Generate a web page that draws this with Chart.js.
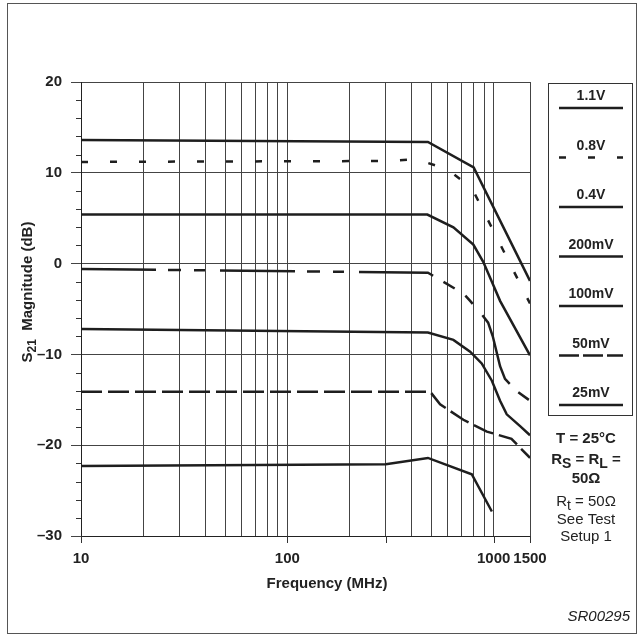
<!DOCTYPE html>
<html>
<head>
<meta charset="utf-8">
<script src="https://cdn.jsdelivr.net/npm/chart.js@4/dist/chart.umd.min.js"></script>
<style>
html, body { margin: 0; padding: 0; background: #fff; }
#wrap { width: 643px; height: 637px; }
</style>
</head>
<body>
<div id="wrap"><canvas id="c" width="643" height="637"></canvas></div>
<script>
// S21 magnitude vs frequency, one series per input level
const seriesNames = ['1.1V', '0.8V', '0.4V', '200mV', '100mV', '50mV', '25mV'];

const f11 = [10, 480, 800, 1500];
const s11 = [13.6, 13.4, 10.6, -1.9];

const f08 = [10, 300, 420, 594, 785, 1500];
const s08 = [11.2, 11.3, 11.5, 10.4, 8.3, -4.4];

const f04 = [10, 477, 638, 797, 890, 980, 1074, 1500];
const s04 = [5.4, 5.4, 4.0, 2.1, 0.2, -2.0, -4.1, -10.1];

const f200 = [10, 480, 713, 769, 875, 940, 990, 1074, 1135, 1285, 1500];
const s200 = [-0.6, -1.0, -3.3, -4.1, -5.6, -6.5, -8.0, -11.3, -12.7, -14.0, -15.1];

const f100 = [10, 480, 638, 769, 875, 980, 1074, 1157, 1343, 1500];
const s100 = [-7.2, -7.6, -8.4, -9.7, -11.0, -12.9, -15.1, -16.6, -17.9, -18.9];

const f50 = [10, 492, 550, 713, 927, 1220, 1500];
const s50 = [-14.1, -14.1, -15.5, -17.2, -18.5, -19.3, -21.4];

const f25 = [10, 300, 480, 783, 980];
const s25 = [-22.3, -22.1, -21.4, -23.2, -27.3];

const xGrid = [10, 20, 30, 40, 50, 60, 70, 80, 90, 100, 200, 300, 400, 500, 600, 700, 800, 900, 1000, 1500];
const xLabels = [10, 100, 1000, 1500];
const xLongTicks = [10, 100, 300, 1000, 1500];
const yMin = -30, yMax = 20, yStep = 2;

const FONT = '"Liberation Sans", Arial, Helvetica, sans-serif';
const INK = '#1e1e1e';

function pts(f, s) { return f.map((v, i) => ({ x: v, y: s[i] })); }

function series(i, f, s, dash, legendDash) {
  return {
    label: seriesNames[i],
    data: pts(f, s),
    borderColor: INK,
    borderWidth: 2.5,
    borderDash: dash || [],
    legendDash: legendDash || [],
    pointRadius: 0,
    tension: 0,
    fill: false
  };
}

function drawRich(ctx, parts, cx, baseY) {
  let total = 0;
  parts.forEach(p => { ctx.font = p.f; p.w = ctx.measureText(p.t).width; total += p.w; });
  let x = cx - total / 2;
  ctx.textAlign = 'left';
  ctx.textBaseline = 'alphabetic';
  parts.forEach(p => { ctx.font = p.f; ctx.fillText(p.t, x, baseY + (p.dy || 0)); x += p.w; });
}

function seg(ctx, x0, y0, x1, y1) {
  ctx.beginPath(); ctx.moveTo(x0, y0); ctx.lineTo(x1, y1); ctx.stroke();
}

const decor = {
  id: 'decor',
  afterDraw(chart) {
    const { ctx, chartArea: a, scales: { x, y } } = chart;
    ctx.save();

    // outer frame
    ctx.strokeStyle = '#555';
    ctx.lineWidth = 1;
    ctx.strokeRect(7.5, 3.5, 629, 630);

    // minor y ticks
    ctx.strokeStyle = '#333';
    y.ticks.forEach(t => {
      if (t.value % 10 !== 0) {
        const py = Math.round(y.getPixelForValue(t.value)) + 0.5;
        seg(ctx, a.left - 5, py, a.left, py);
      }
    });
    // longer x ticks below the axis
    xLongTicks.forEach(v => {
      const px = Math.round(x.getPixelForValue(v)) + 0.5;
      seg(ctx, px, a.bottom, px, a.bottom + 7);
    });

    ctx.fillStyle = '#222';
    // x title
    ctx.font = 'bold 15px ' + FONT;
    ctx.textAlign = 'center';
    ctx.textBaseline = 'alphabetic';
    ctx.fillText('Frequency (MHz)', 327, 588);

    // y title, rotated
    ctx.save();
    ctx.translate(32, 292);
    ctx.rotate(-Math.PI / 2);
    drawRich(ctx, [
      { t: 'S', f: 'bold 15px ' + FONT },
      { t: '21', f: 'bold 12px ' + FONT, dy: 4 },
      { t: '  Magnitude (dB)', f: 'bold 15px ' + FONT }
    ], 0, 0);
    ctx.restore();

    // legend box
    const lx0 = 548, ly0 = 83, lx1 = 632, ly1 = 415;
    ctx.strokeStyle = '#333';
    ctx.lineWidth = 1;
    ctx.strokeRect(lx0 + 0.5, ly0 + 0.5, lx1 - lx0, ly1 - ly0);
    chart.data.datasets.forEach((ds, i) => {
      const ty = 100 + i * 49.5;
      ctx.font = 'bold 14px ' + FONT;
      ctx.textAlign = 'center';
      ctx.fillText(ds.label, 591, ty);
      ctx.strokeStyle = INK;
      ctx.lineWidth = 2.5;
      ctx.setLineDash(ds.legendDash);
      seg(ctx, 559, ty + 8, 623, ty + 8);
      ctx.setLineDash([]);
    });

    // notes
    const cx = 586;
    ctx.font = 'bold 15px ' + FONT;
    ctx.textAlign = 'center';
    ctx.fillText('T = 25°C', cx, 443);
    drawRich(ctx, [
      { t: 'R', f: 'bold 15px ' + FONT },
      { t: 'S', f: 'bold 14px ' + FONT, dy: 4 },
      { t: ' = R', f: 'bold 15px ' + FONT },
      { t: 'L', f: 'bold 14px ' + FONT, dy: 4 },
      { t: ' =', f: 'bold 15px ' + FONT }
    ], cx, 464);
    ctx.font = 'bold 15px ' + FONT;
    ctx.textAlign = 'center';
    ctx.fillText('50Ω', cx, 483);
    drawRich(ctx, [
      { t: 'R', f: '15px ' + FONT },
      { t: 't', f: '14px ' + FONT, dy: 4 },
      { t: ' = 50Ω', f: '15px ' + FONT }
    ], cx, 506);
    ctx.font = '15px ' + FONT;
    ctx.textAlign = 'center';
    ctx.fillText('See Test', cx, 524);
    ctx.fillText('Setup 1', cx, 541);

    ctx.font = 'italic 15px ' + FONT;
    ctx.textAlign = 'right';
    ctx.fillText('SR00295', 630, 621);
    ctx.restore();
  }
};

new Chart(document.getElementById('c'), {
  type: 'line',
  data: {
    datasets: [
      series(0, f11, s11),
      series(1, f08, s08, [7, 22], [7, 22]),
      series(2, f04, s04),
      series(3, f200, s200, [75, 12, 13, 13, 11, 15]),
      series(4, f100, s100),
      series(5, f50, s50, [21, 6], [20, 4]),
      series(6, f25, s25)
    ]
  },
  options: {
    responsive: false,
    animation: false,
    devicePixelRatio: 1,
    layout: { padding: { top: 82, right: 113, left: 0, bottom: 0 } },
    plugins: { legend: { display: false }, tooltip: { enabled: false } },
    scales: {
      x: {
        type: 'logarithmic',
        min: 10,
        max: 1500,
        afterBuildTicks: s => { s.ticks = xGrid.map(v => ({ value: v })); },
        afterFit: s => { s.height = 101; },
        grid: { color: '#444', lineWidth: 1, drawTicks: false },
        border: { display: true, color: '#222', width: 1 },
        ticks: {
          autoSkip: false,
          maxRotation: 0,
          padding: 14,
          color: '#222',
          font: { family: FONT, size: 15, weight: 'bold' },
          callback: v => xLabels.includes(v) ? String(v) : ''
        }
      },
      y: {
        type: 'linear',
        min: yMin,
        max: yMax,
        afterFit: s => { s.width = 81; },
        grid: {
          color: c => (c.tick && c.tick.value % 10 === 0) ? '#444' : 'rgba(0,0,0,0)',
          tickColor: c => (c.tick && c.tick.value % 10 === 0) ? '#444' : 'rgba(0,0,0,0)',
          tickLength: 10,
          lineWidth: 1
        },
        border: { display: true, color: '#222', width: 1 },
        ticks: {
          autoSkip: false,
          stepSize: yStep,
          padding: 9,
          color: '#222',
          font: { family: FONT, size: 15, weight: 'bold' },
          callback: v => v % 10 === 0 ? (v < 0 ? '–' + Math.abs(v) : String(v)) : ''
        }
      }
    }
  },
  plugins: [decor]
});
</script>
</body>
</html>
